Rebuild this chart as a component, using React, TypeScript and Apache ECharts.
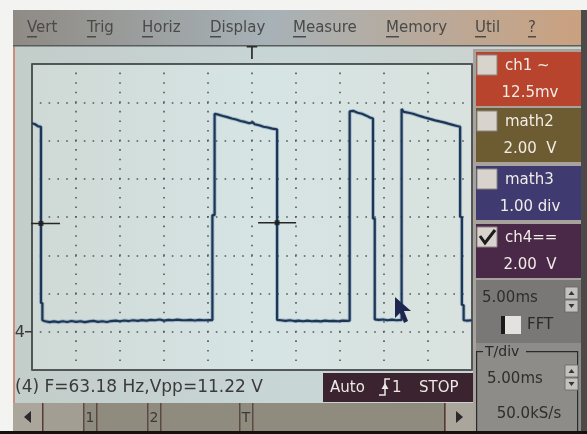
import React, { useEffect, useRef } from 'react';
import * as echarts from 'echarts';

// ---- data (time in ms, 5 ms/div; volts, 2 V/div, ground = 0 V) ----
const traceT = [
  0, 0.35, 0.7, 1.02, 1.02, 1.18, 1.18, 1.5, 2.0, 2.5, 3.0, 3.5, 4.0, 4.5, 5.0, 5.5, 6.0, 6.5, 7.0, 7.5,
  8.0, 8.5, 9.0, 9.5, 10.0, 10.5, 11.0, 11.5, 12.0, 12.5, 13.0, 13.5, 14.0, 14.5, 15.0, 15.5, 16.0, 16.5,
  17.0, 17.5, 18.0, 18.5, 19.0, 19.5, 20.2, 20.5, 20.5, 20.75, 20.75, 21.2, 21.7, 22.2, 22.7, 23.2, 23.7,
  24.2, 24.7, 25.1, 25.3, 25.8, 26.3, 26.8, 27.3, 27.85, 27.85, 28.3, 28.8, 29.3, 29.8, 30.3, 30.8, 31.3,
  31.8, 32.3, 32.8, 33.3, 33.8, 34.3, 34.8, 35.3, 35.8, 36.1, 36.1, 36.5, 37.0, 37.5, 38.0, 38.4, 38.75,
  38.75, 38.95, 38.95, 39.4, 39.9, 40.4, 40.9, 41.4, 42.0, 42.0, 42.25, 42.8, 43.3, 43.8, 44.3, 44.8, 45.3,
  45.8, 46.3, 46.8, 47.3, 47.8, 48.3, 48.65, 48.65, 48.85, 48.85, 49.05, 49.05, 49.5, 50.0,
];
const traceV = [
  10.9, 10.85, 10.74, 10.72, 1.5, 1.5, 0.6, 0.55, 0.5, 0.54, 0.5, 0.55, 0.51, 0.56, 0.52, 0.55, 0.5, 0.54, 0.57, 0.52,
  0.55, 0.51, 0.56, 0.58, 0.55, 0.59, 0.56, 0.6, 0.57, 0.61, 0.58, 0.62, 0.6, 0.64, 0.58, 0.62, 0.6, 0.63,
  0.61, 0.6, 0.62, 0.59, 0.62, 0.6, 0.61, 0.61, 6.1, 6.1, 11.4, 11.35, 11.28, 11.22, 11.15, 11.1, 11.02,
  10.97, 10.9, 10.95, 10.85, 10.8, 10.72, 10.68, 10.62, 10.58, 0.62, 0.6, 0.57, 0.6, 0.56, 0.58, 0.55, 0.58,
  0.55, 0.57, 0.54, 0.58, 0.56, 0.57, 0.55, 0.58, 0.57, 0.58, 11.52, 11.55, 11.45, 11.4, 11.3, 11.2, 11.15,
  5.92, 5.92, 0.65, 0.62, 0.64, 0.6, 0.63, 0.6, 0.62, 11.65, 11.5, 11.45, 11.4, 11.32, 11.25, 11.18, 11.12,
  11.05, 11.0, 10.95, 10.88, 10.82, 10.76, 10.72, 6.0, 6.0, 1.4, 1.4, 0.6, 0.58, 0.6,
];
const cursorT = [1.02, 27.85];
const cursorV = [5.66, 5.7];
const triggerT = 25;
const groundV = 0;
const groundLabel = '4';

const menuItems = ['Vert', 'Trig', 'Horiz', 'Display', 'Measure', 'Memory', 'Util', '?'];
const channelNames = ['ch1 ~', 'math2', 'math3', 'ch4=='];
const channelScales = ['12.5mv', '2.00  V', '1.00 div', '2.00  V'];
const channelChecked = [false, false, false, true];
const statusText = '(4) F=63.18 Hz,Vpp=11.22 V';
const runText = ['Auto', '1', 'STOP'];
const zoomText = '5.00ms';
const fftText = 'FFT';
const tdivLabel = 'T/div';
const tdivValue = '5.00ms';
const rateText = '50.0kS/s';
const scrollMarks = ['1', '2', 'T'];

const FONT = '"DejaVu Sans", Verdana, sans-serif';

export default function App() {
  const ref = useRef<HTMLDivElement>(null);

  useEffect(() => {
    document.body.style.margin = '0';
    const chart = echarts.init(ref.current!, null, { renderer: 'svg' });

    const rect = (x: number, y: number, w: number, h: number, fill: any, z = -10, extra: any = {}) => ({
      type: 'rect', z, silent: true, shape: { x, y, width: w, height: h }, style: { fill, ...extra },
    });
    const text = (x: number, y: number, t: string, size: number, fill: string, align = 'left', z = 5) => ({
      type: 'text', z, silent: true, x, y,
      style: { text: t, fill, fontSize: size, fontFamily: FONT, align, verticalAlign: 'middle' },
    });
    const lg = (stops: [number, string][], horiz = true) =>
      new echarts.graphic.LinearGradient(0, 0, horiz ? 1 : 0, horiz ? 0 : 1, stops.map(([offset, color]) => ({ offset, color })));

    const g: any[] = [];
    // page + screen
    g.push(rect(0, 0, 587, 434, '#f3f3f1', -30));
    g.push(rect(13, 10, 568, 421, lg([[0, '#c3cdca'], [0.5, '#c8d6d6'], [1, '#ccd2cc']]), -29));
    g.push(rect(13, 10, 2, 421, '#c8907c', -28));
    g.push(rect(581, 10, 6, 424, '#4c4a48', -28));
    g.push(rect(0, 431, 587, 3, '#16110e', -28));
    // menu bar
    g.push(rect(13, 10, 568, 36, lg([[0, '#8f8a84'], [0.45, '#a7b2b7'], [1, '#caa17f']]), -27));
    g.push(rect(13, 45, 568, 1.5, '#585c5e', -26));
    const menuX = [27, 87, 142, 210, 293, 386, 475, 528];
    const firstW = [10, 9, 11, 11, 13, 13, 11, 8];
    menuItems.forEach((m, i) => {
      g.push(text(menuX[i], 27, m, 15, '#4a4a48'));
      g.push(rect(menuX[i], 36, firstW[i], 1.5, '#4a4a48', 5));
    });
    // plot background
    g.push(rect(32, 64, 440, 306, lg([[0, '#cfd9d5'], [0.5, '#d6e4e4'], [1, '#d9e2de']]), -25));

    // right panel
    g.push(rect(473, 49, 108, 382, '#a8a29c', -24));
    const boxY = [52, 108, 166, 224];
    const boxFill = ['#b8442e', '#6d5b31', '#3f3a70', '#4a2847'];
    boxY.forEach((y, i) => {
      g.push(rect(476, y, 105, 54, boxFill[i], -20));
      g.push(rect(477, y + 3, 20, 20, '#d8d3cc', 4, { stroke: '#8a8680', lineWidth: 1 }));
      g.push(text(505, y + 13, channelNames[i], 15, '#f0ece6'));
      g.push(text(530, y + 40, channelScales[i], 15, '#f0ece6', 'center'));
      if (channelChecked[i]) {
        g.push({ type: 'polyline', z: 6, silent: true, shape: { points: [[480, y + 12], [485, y + 19], [495, y + 6]] }, style: { stroke: '#1c1c1c', lineWidth: 3, fill: null } });
      }
    });
    // zoom time section
    g.push(rect(476, 280, 105, 63, '#7a7876', -20));
    g.push(text(482, 297, zoomText, 15, '#2e2e2e'));
    const spin = (y: number) => {
      g.push(rect(565, y, 13, 12, '#c4c2be', 4, { stroke: '#666', lineWidth: 0.8 }));
      g.push(rect(565, y + 13, 13, 12, '#c4c2be', 4, { stroke: '#666', lineWidth: 0.8 }));
      g.push({ type: 'polygon', z: 6, silent: true, shape: { points: [[568.5, y + 8], [574.5, y + 8], [571.5, y + 4]] }, style: { fill: '#333' } });
      g.push({ type: 'polygon', z: 6, silent: true, shape: { points: [[568.5, y + 17], [574.5, y + 17], [571.5, y + 21]] }, style: { fill: '#333' } });
    };
    spin(287);
    g.push(rect(501, 316, 4, 18, '#1a1a1a', 4));
    g.push(rect(505, 316, 16, 18, '#e4e2de', 4));
    g.push(text(527, 324, fftText, 15, '#2a2a2a'));
    // T/div group
    g.push(rect(476, 343, 105, 88, '#8e8c88', -20));
    g.push(rect(476, 351, 7, 1.2, '#2a2a2a', 4));
    g.push(rect(526, 351, 52, 1.2, '#2a2a2a', 4));
    g.push(rect(476, 351, 1.2, 80, '#2a2a2a', 4));
    g.push(rect(577, 351, 1.2, 80, '#2a2a2a', 4));
    g.push(text(485, 351, tdivLabel, 14, '#2a2a2a'));
    g.push(text(487, 378, tdivValue, 15, '#2e2e2e'));
    spin(365);
    g.push(text(529, 413, rateText, 15, '#2e2e2e', 'center'));

    // status line
    g.push(text(15, 386, statusText, 17, '#3a3a3a'));
    g.push(rect(323, 373, 150, 29, '#3b2430', -20));
    g.push(text(330, 387, runText[0], 15, '#ece8e4'));
    g.push({ type: 'polyline', z: 6, silent: true, shape: { points: [[379, 395], [385, 395], [385, 379], [390, 379]] }, style: { stroke: '#ece8e4', lineWidth: 1.5, fill: null } });
    g.push({ type: 'polygon', z: 6, silent: true, shape: { points: [[381.5, 389], [388.5, 389], [385, 383]] }, style: { fill: '#ece8e4' } });
    g.push(text(392, 387, runText[1], 15, '#ece8e4'));
    g.push(text(419, 387, runText[2], 15, '#ece8e4'));

    // scrollbar
    g.push(rect(13, 403, 460, 28, '#8f8b7e', -20));
    g.push(rect(13, 403, 29, 28, '#aaa69c', -19));
    g.push(rect(42, 403, 42, 28, '#a29e94', -19));
    g.push(rect(446, 403, 27, 28, '#aaa69c', -19));
    g.push({ type: 'polygon', z: 6, silent: true, shape: { points: [[31, 411], [31, 423], [24, 417]] }, style: { fill: '#2a2a2a' } });
    g.push({ type: 'polygon', z: 6, silent: true, shape: { points: [[456, 411], [456, 423], [463, 417]] }, style: { fill: '#2a2a2a' } });
    g.push(rect(42, 403, 1.5, 28, '#5a3a30', 4));
    g.push(rect(444, 403, 1.5, 28, '#5a3a30', 4));
    const markX = [90, 154, 246];
    scrollMarks.forEach((m, i) => {
      g.push(rect(markX[i] - 7, 403, 1.5, 28, '#5a4a40', 4));
      g.push(text(markX[i], 417, m, 14, '#3a3a3a', 'center'));
      g.push(rect(markX[i] + 6, 403, 1.5, 28, '#5a4a40', 4));
    });

    // mouse pointer
    g.push({ type: 'polygon', z: 20, silent: true, shape: { points: [[395, 297], [395, 318], [400, 313], [404, 323], [408, 321], [404, 311], [411, 311]] }, style: { fill: '#1c2650' } });

    const traceData = traceT.map((t, i) => [t, traceV[i]]);
    const half = 2.16;
    const crossSeries = cursorT.map((t, i) => ({
      type: 'line', silent: true, clip: false, showSymbol: false, z: 6,
      data: [[t - half, cursorV[i]], [t + half, cursorV[i]]],
      lineStyle: { color: '#262626', width: 1.5 },
    }));

    const option: any = {
      animation: false,
      grid: { left: 32, top: 64, width: 440, height: 306, show: true, backgroundColor: 'transparent', borderColor: '#2c2c2c', borderWidth: 1.5 },
      xAxis: {
        type: 'value', min: 0, max: 50, interval: 5, position: 'top',
        axisLine: { show: false }, axisTick: { show: false },
        axisLabel: { formatter: (v: number) => (v === triggerT ? 'T' : ''), color: '#2a2a2a', fontSize: 17, fontFamily: FONT, margin: 3 },
        splitLine: { show: true, lineStyle: { color: '#4e5860', width: 1.6, type: [1.6, 7.9625], dashOffset: 0.8 } },
      },
      yAxis: {
        type: 'value', min: -2, max: 14, interval: 2,
        axisLine: { show: false }, axisTick: { show: false },
        axisLabel: {
          margin: 0,
          formatter: (v: number) => (v === groundV ? `{n|${groundLabel}}{t| }` : ''),
          rich: {
            n: { fontSize: 16, color: '#3a3a3a', fontFamily: FONT },
            t: { width: 7, height: 1.5, backgroundColor: '#3a3a3a', fontSize: 2 },
          },
        },
        splitLine: { show: true, lineStyle: { color: '#4e5860', width: 1.6, type: [1.6, 7.2], dashOffset: 0.8 } },
      },
      graphic: { elements: g },
      series: [
        { type: 'line', silent: true, showSymbol: false, data: traceData, z: 3, lineStyle: { color: 'rgba(70,120,160,0.35)', width: 4 } },
        { type: 'line', silent: true, showSymbol: false, data: traceData, z: 4, lineStyle: { color: '#1f3556', width: 2.2 } },
        ...crossSeries,
        { type: 'scatter', silent: true, symbol: 'rect', symbolSize: 5, z: 7, itemStyle: { color: '#1c1c1c' }, data: cursorT.map((t, i) => [t, cursorV[i]]) },
      ],
    };
    chart.setOption(option);
    return () => chart.dispose();
  }, []);

  return <div ref={ref} style={{ position: 'fixed', left: 0, top: 0, width: 587, height: 434 }} />;
}
